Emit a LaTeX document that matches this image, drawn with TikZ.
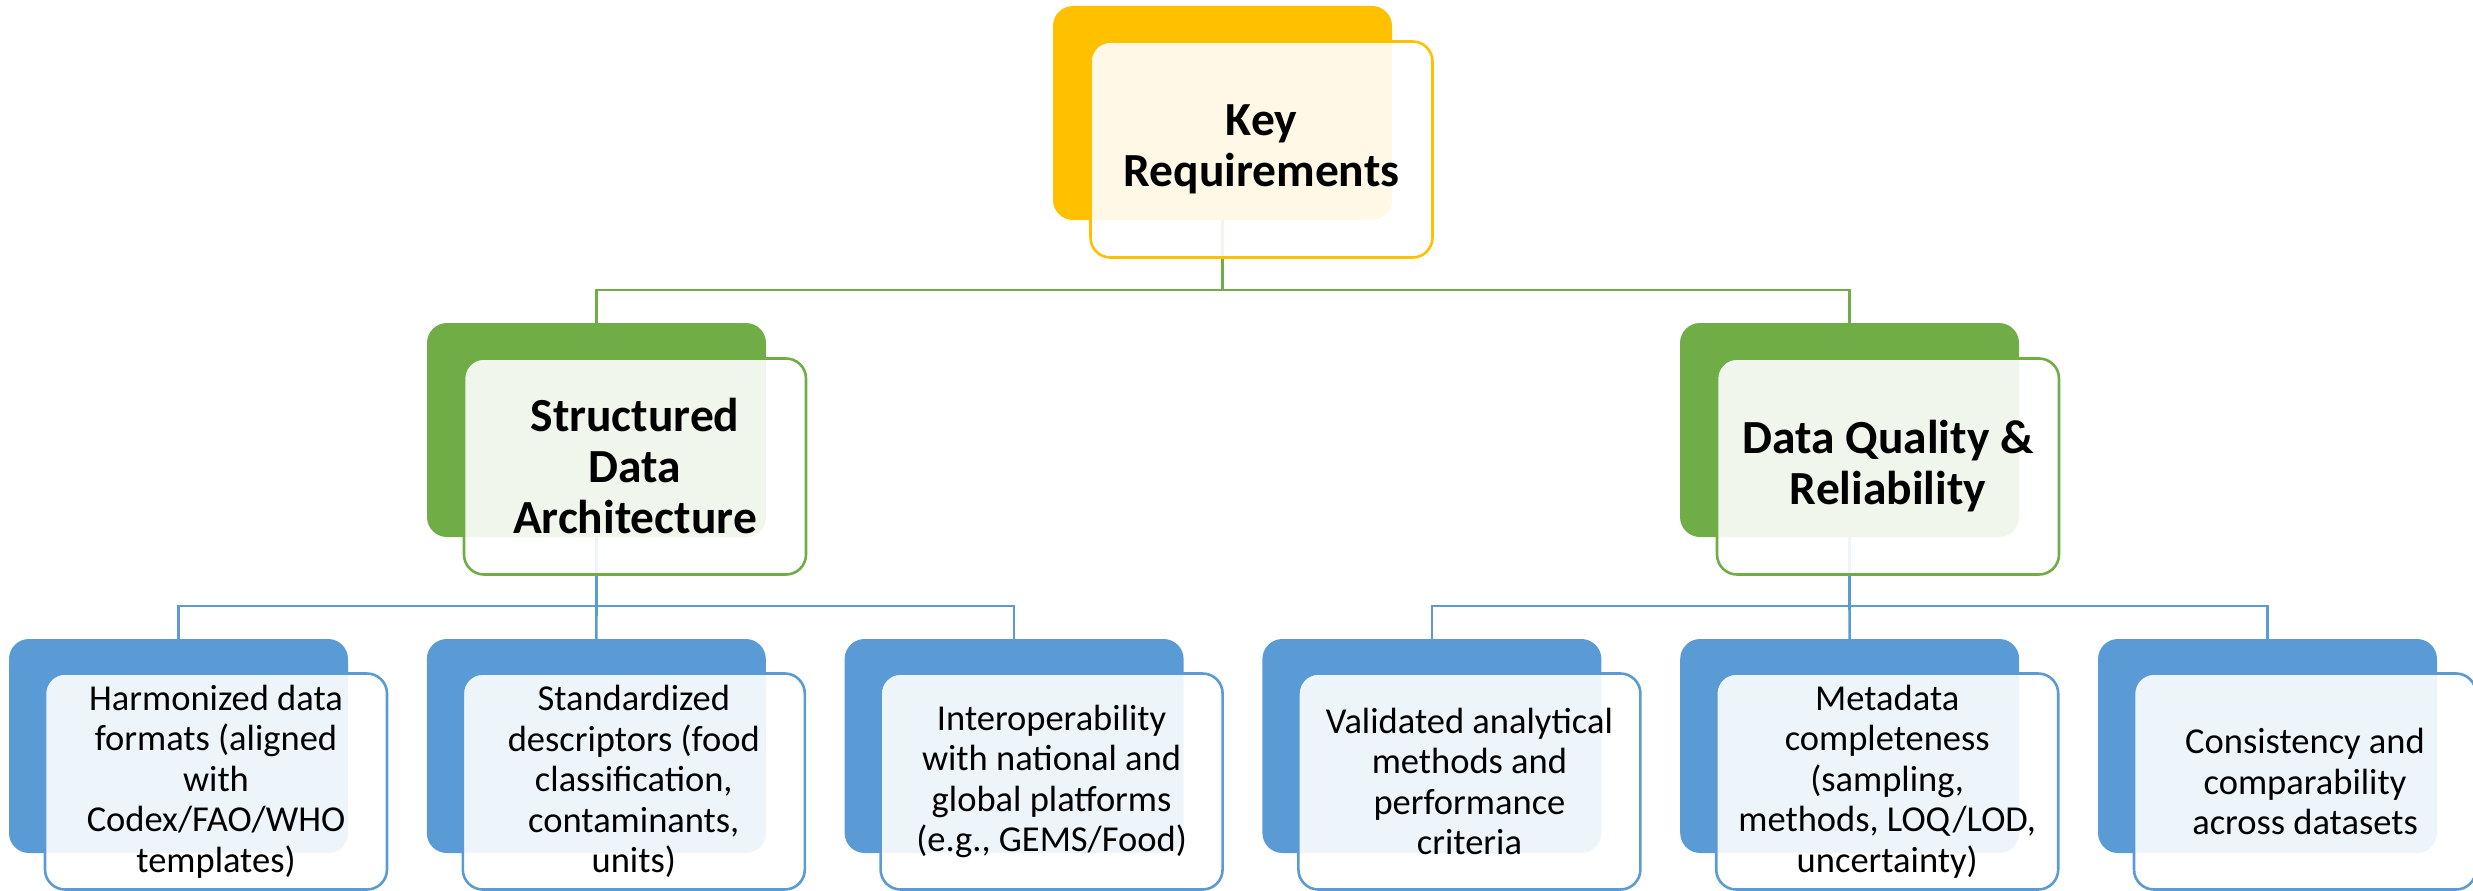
\documentclass[tikz,border=0pt]{standalone}
\usepackage{fontspec}
\setmainfont{Carlito}
\usetikzlibrary{calc}
\definecolor{cyel}{HTML}{FFC000}
\definecolor{cgrn}{HTML}{70AD47}
\definecolor{cblu}{HTML}{5B9BD5}
\begin{document}
\begin{tikzpicture}[x=1pt,y=-1pt,
  backbox/.style={rectangle, rounded corners=20pt, fill=#1, draw=none,
    minimum width=339pt, minimum height=214pt, inner sep=0pt},
  frontbox/.style={rectangle, rounded corners=20pt, draw=#1, line width=2.6pt,
    fill=white, fill opacity=0.9, text opacity=1, align=center,
    minimum width=342pt, minimum height=216pt, inner sep=0pt},
  bigtxt/.style={font=\fontsize{47.5}{51}\selectfont\bfseries},
  smalltxt/.style={font=\fontsize{36.5}{40.5}\selectfont},
  link/.style={draw=#1, line width=2.6pt}
]
\useasboundingbox (0,0) rectangle (2473,891);

% ---- back panels ----
\node[backbox=cyel] (kb) at (1222.5,113) {};
\node[backbox=cgrn] (gb1) at (596.5,430) {};
\node[backbox=cgrn] (gb2) at (1849.5,430) {};
\foreach \i in {1,...,6}{
  \node[backbox=cblu] (bb\i) at ({178.5+417.8*(\i-1)},746) {};
}

% ---- connectors ----
\coordinate (bar1) at (1222.5,290);
\coordinate (bar2) at (596.5,606);
\coordinate (bar3) at (1849.5,606);
\draw[link=cgrn] (kb.south) -- (bar1) -| (gb1.north);
\draw[link=cgrn] (bar1) -| (gb2.north);
\draw[link=cblu] (gb1.south) -- (bar2) -| (bb1.north);
\draw[link=cblu] (bar2) -| (bb3.north);
\draw[link=cblu] (bar2) -- (bb2.north);
\draw[link=cblu] (gb2.south) -- (bar3) -| (bb4.north);
\draw[link=cblu] (bar3) -| (bb6.north);
\draw[link=cblu] (bar3) -- (bb5.north);

% ---- front panels with text ----
\node[frontbox=cyel, bigtxt] (kf) at (1261.5,149.5) {Key\\Requirements};
\node[frontbox=cgrn, bigtxt] (gf1) at (635,466.5) {Structured\\Data\\Architecture};
\node[frontbox=cgrn, bigtxt] (gf2) at (1888,466.5) {Data Quality \&\\Reliability};

\node[frontbox=cblu, smalltxt] (bf1) at ($(bb1)+(37.5,35.5)$) {Harmonized data\\formats (aligned\\with\\Codex/FAO/WHO\\templates)};
\node[frontbox=cblu, smalltxt] (bf2) at ($(bb2)+(37.5,35.5)$) {Standardized\\descriptors (food\\classification,\\contaminants,\\units)};
\node[frontbox=cblu, smalltxt] (bf3) at ($(bb3)+(37.5,35.5)$) {Interoperability\\with national and\\global platforms\\(e.g., GEMS/Food)};
\node[frontbox=cblu, smalltxt] (bf4) at ($(bb4)+(37.5,35.5)$) {Validated analytical\\methods and\\performance\\criteria};
\node[frontbox=cblu, smalltxt] (bf5) at ($(bb5)+(37.5,35.5)$) {Metadata\\completeness\\(sampling,\\methods, LOQ/LOD,\\uncertainty)};
\node[frontbox=cblu, smalltxt] (bf6) at ($(bb6)+(37.5,35.5)$) {Consistency and\\comparability\\across datasets};
\end{tikzpicture}
\end{document}
